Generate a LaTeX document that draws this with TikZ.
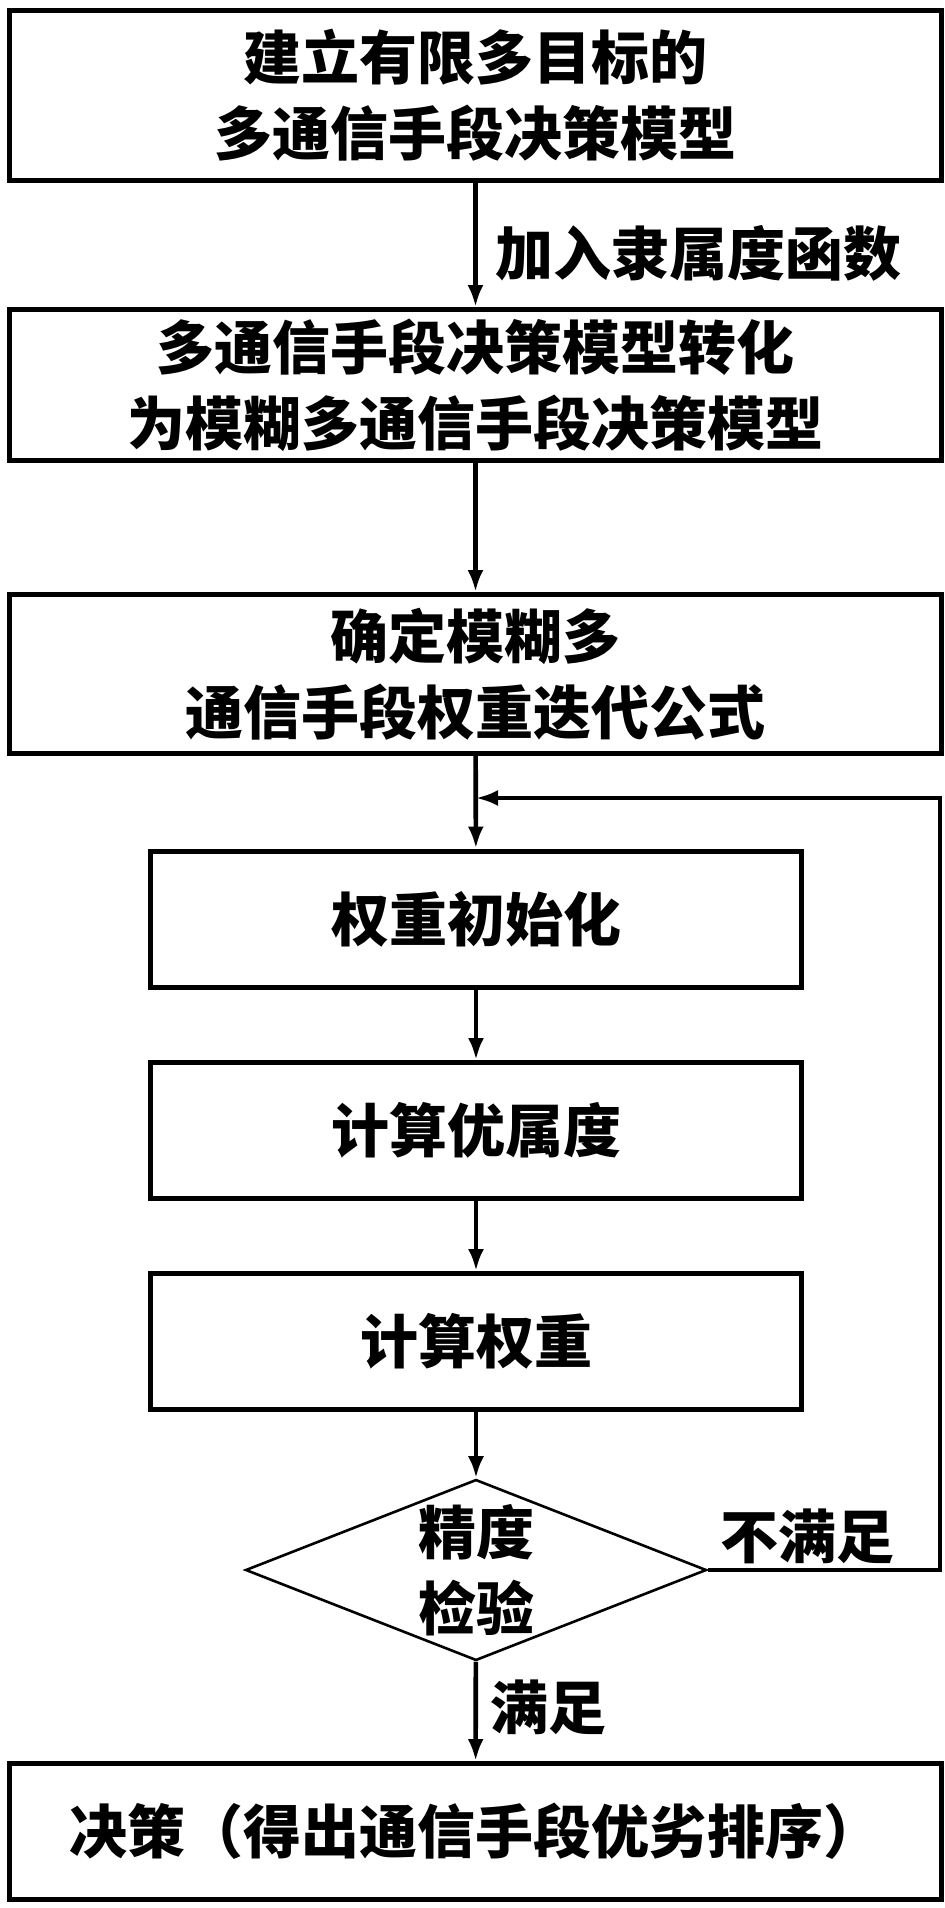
\documentclass[tikz,border=0pt]{standalone}
\usepackage{fontspec}
\newfontfamily\cjk{Noto Sans CJK SC}
\usepackage{xcolor}
\colorlet{LINECOLOR}{black}
\colorlet{FILLCOLOR}{white}
\usetikzlibrary{shapes.geometric,arrows.meta,positioning}
\tikzset{
  base-style/.style = {
    draw=LINECOLOR, fill=FILLCOLOR, line width=2.5pt,
    inner sep=0pt, align=center,
    font=\cjk\bfseries\fontsize{29}{38}\selectfont
  },
  wide-style/.style = {
    base-style, rectangle, minimum width=466pt, minimum height=#1
  },
  narrow-style/.style = {
    base-style, rectangle, minimum width=325.5pt, minimum height=68pt
  },
  check-style/.style = {
    base-style, diamond, line width=1.3pt, shape aspect=2.5,
    minimum width=230.5pt, minimum height=90.5pt
  },
  text-style/.style = {
    inner sep=0pt, font=\cjk\bfseries\fontsize{29}{38}\selectfont
  },
  every edge/.style = {draw, ->, >={Latex[length=11pt,width=8pt]}, line width=2.3pt}
}

\begin{document}
\begin{tikzpicture}[x=0.5pt,y=-0.5pt]
    \useasboundingbox (0,0) rectangle (945,1908);

    %%% model boxes
    \node[wide-style=85pt] (model) at (475.5,95.5) {建立有限多目标的\\多通信手段决策模型};
    \node[wide-style=75.5pt] (fuzzy) at (475.5,385) {多通信手段决策模型转化\\为模糊多通信手段决策模型};
    \node[wide-style=79.5pt] (iter) at (475.5,674) {确定模糊多\\通信手段权重迭代公式};

    %%% iteration
    \node[narrow-style] (init) at (476,919) {权重初始化};
    \node[narrow-style] (member) at (476,1130.5) {计算优属度};
    \node[narrow-style] (weight) at (476,1341.5) {计算权重};
    \node[check-style] (check) at (476,1570) {精度\\检验};

    %%% result
    \node[wide-style=68pt] (decide) at (475.5,1831.5) {决策（得出通信手段优劣排序）};

    \coordinate (loop) at (476,798);
    \coordinate (loopcorner) at (940,1570);

    %%% arrows
    \path (model) edge node[text-style,anchor=west,xshift=9pt,yshift=-4pt] {加入隶属度函数} (fuzzy);
    \path (fuzzy) edge (iter);
    \path (iter) edge (init);
    \path (init) edge (member);
    \path (member) edge (weight);
    \path (weight) edge (check);
    \path (check) edge node[text-style,anchor=west,xshift=6pt,yshift=2pt] {满足} (decide);
    \draw[->, >={Latex[length=11pt,width=8pt]}, line width=2pt]
      (check.east) -- node[text-style,above=2pt,xshift=-8pt] {不满足} (loopcorner) |- (loop);
\end{tikzpicture}
\end{document}
